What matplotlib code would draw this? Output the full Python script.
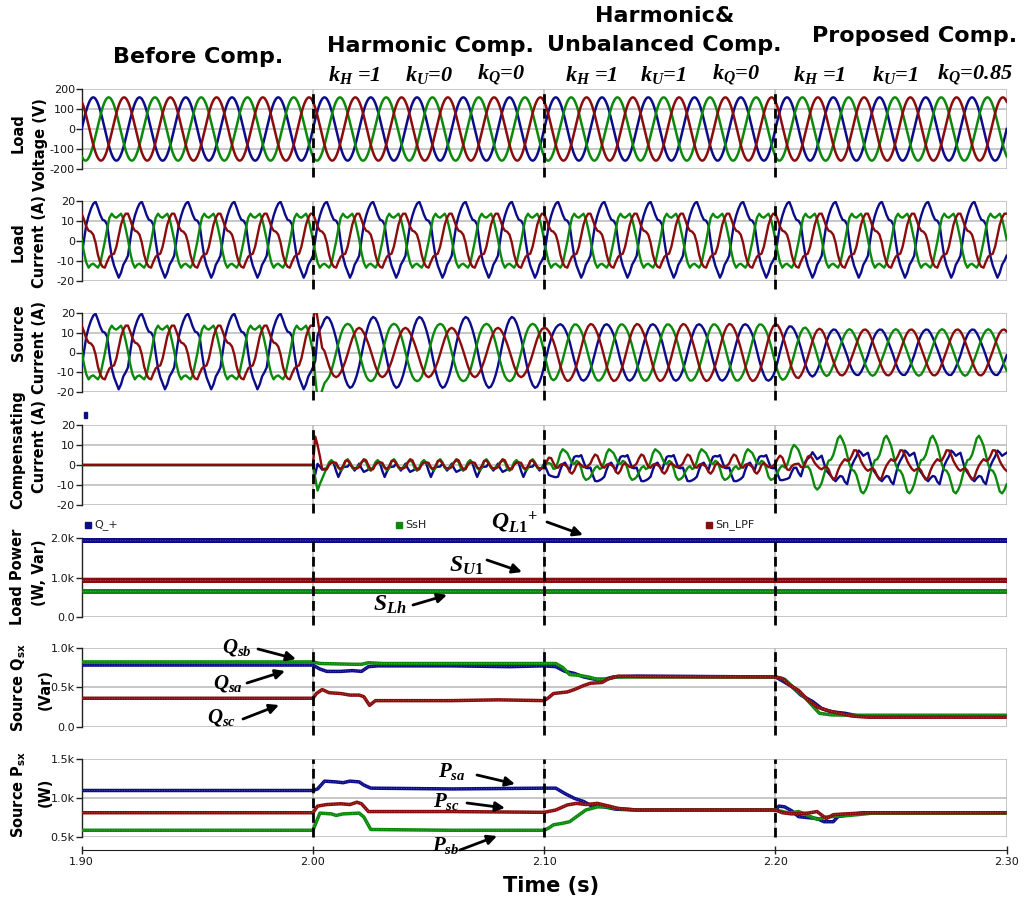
import numpy as np
import matplotlib
matplotlib.use("Agg")
import matplotlib.pyplot as plt
from matplotlib.patches import Rectangle, FancyArrowPatch

plt.rcParams["font.family"] = ["DejaVu Sans"]
plt.rcParams["mathtext.fontset"] = "custom"
plt.rcParams["mathtext.it"] = "Liberation Serif:bold:italic"
plt.rcParams["mathtext.rm"] = "Liberation Serif:bold"
plt.rcParams["mathtext.bf"] = "Liberation Serif:bold"
plt.rcParams["mathtext.sf"] = "DejaVu Sans:bold"

# ------------------------------------------------------------------ data
TIME_START, TIME_STOP, TIME_STEP = 1.90, 2.30, 0.001
F_LINE = 50.0

# compensation modes and their gains
MODE_STARTS = [1.90, 2.00, 2.10, 2.20]
MODE_SETTLE = [0.001, 0.001, 0.006, 0.025]
K_H = [0, 1, 1, 1]
K_U = [0, 0, 1, 1]
K_Q = [0, 0, 0, 0.85]
FILTER_RESIDUAL = 0.10

# load voltage: peak value and time of peak within the 20 ms cycle (a, b, c)
V_PEAK = 158.0
V_PEAK_TIME = [0.0050, 0.01167, 0.01833]

# one 20 ms cycle of the non-linear load currents, 1 ms per sample (A)
LOAD_IA = [-7.5, 0.5, 8.0, 12.5, 16.0, 18.5, 19.5, 16.5, 13.0, 10.5,
           10.0, 8.0, -0.5, -8.0, -12.5, -15.5, -18.5, -16.0, -12.0, -10.0]
LOAD_IB = [0.5, -6.0, -11.0, -13.5, -12.0, -11.5, -12.5, -13.5, -11.5, -6.0,
           -0.5, 6.0, 11.5, 13.5, 12.0, 11.5, 12.5, 13.5, 11.0, 6.0]
LOAD_IC = [13.5, 10.5, 7.0, 5.0, 4.5, 3.0, -1.0, -7.0, -11.0, -13.0,
           -13.5, -10.5, -8.0, -7.0, -6.5, -3.0, 2.5, 8.0, 11.5, 13.5]

# start-up kick of the compensator at 2.00 s (A)
KICK_T = [2.001, 2.002, 2.003, 2.004, 2.005]
KICK_A = [-3.0, 4.0, 2.0, 0.0, 0.0]
KICK_B = [-8.0, -15.0, -11.0, -5.0, -1.0]
KICK_C = [13.0, 7.0, 2.0, -2.0, 0.0]

# load power components (kW, kVar)
LOAD_POWER_LABELS = ["Q_+", "SsH", "Sn_LPF"]
LOAD_POWER_VALUES = [1.96, 0.67, 0.93]

# per-phase source reactive power (s, kVar)
Q_SA = [(1.900, 0.78), (2.000, 0.78), (2.003, 0.73), (2.006, 0.70), (2.012, 0.70),
        (2.017, 0.71), (2.021, 0.70), (2.024, 0.76), (2.028, 0.77), (2.060, 0.77),
        (2.085, 0.76), (2.100, 0.77), (2.105, 0.76), (2.109, 0.70), (2.113, 0.675),
        (2.117, 0.63), (2.122, 0.60), (2.126, 0.60), (2.130, 0.63), (2.140, 0.64),
        (2.200, 0.63), (2.203, 0.58), (2.207, 0.51), (2.211, 0.40), (2.216, 0.32),
        (2.220, 0.23), (2.224, 0.19), (2.230, 0.17), (2.236, 0.135), (2.300, 0.13)]
Q_SB = [(1.900, 0.82), (2.000, 0.82), (2.003, 0.80), (2.018, 0.79), (2.021, 0.79),
        (2.024, 0.81), (2.030, 0.80), (2.100, 0.80), (2.105, 0.80), (2.108, 0.75),
        (2.111, 0.66), (2.115, 0.65), (2.119, 0.63), (2.123, 0.60), (2.127, 0.60),
        (2.131, 0.63), (2.140, 0.63), (2.200, 0.63), (2.204, 0.60), (2.208, 0.49),
        (2.213, 0.36), (2.219, 0.17), (2.224, 0.15), (2.232, 0.145), (2.300, 0.145)]
Q_SC = [(1.900, 0.36), (2.000, 0.36), (2.0015, 0.42), (2.004, 0.47), (2.007, 0.43),
        (2.012, 0.42), (2.016, 0.40), (2.020, 0.40), (2.022, 0.38), (2.0245, 0.27),
        (2.027, 0.33), (2.060, 0.33), (2.080, 0.34), (2.100, 0.33), (2.102, 0.37),
        (2.104, 0.42), (2.110, 0.44), (2.113, 0.47), (2.117, 0.52), (2.120, 0.55),
        (2.125, 0.56), (2.128, 0.61), (2.132, 0.64), (2.140, 0.635), (2.200, 0.63),
        (2.203, 0.61), (2.206, 0.53), (2.210, 0.46), (2.214, 0.34), (2.218, 0.25),
        (2.222, 0.21), (2.226, 0.18), (2.233, 0.135), (2.240, 0.12), (2.300, 0.12)]

# per-phase source active power (s, kW)
P_SA = [(1.900, 1.10), (2.000, 1.10), (2.002, 1.12), (2.005, 1.22), (2.010, 1.21),
        (2.013, 1.20), (2.016, 1.22), (2.020, 1.21), (2.022, 1.17), (2.025, 1.13),
        (2.060, 1.12), (2.100, 1.13), (2.105, 1.13), (2.109, 1.06), (2.113, 1.00),
        (2.117, 0.96), (2.120, 0.91), (2.126, 0.89), (2.131, 0.86), (2.140, 0.85),
        (2.200, 0.85), (2.2015, 0.90), (2.204, 0.89), (2.207, 0.84), (2.210, 0.765),
        (2.218, 0.74), (2.221, 0.70), (2.225, 0.70), (2.227, 0.765), (2.232, 0.79),
        (2.238, 0.815), (2.300, 0.815)]
P_SB = [(1.900, 0.59), (2.000, 0.59), (2.003, 0.81), (2.008, 0.80), (2.010, 0.78),
        (2.013, 0.80), (2.020, 0.81), (2.022, 0.76), (2.025, 0.60), (2.060, 0.59),
        (2.100, 0.59), (2.102, 0.62), (2.104, 0.66), (2.108, 0.68), (2.111, 0.70),
        (2.114, 0.765), (2.118, 0.85), (2.123, 0.89), (2.127, 0.89), (2.131, 0.87),
        (2.140, 0.85), (2.200, 0.85), (2.206, 0.81), (2.210, 0.83), (2.214, 0.78),
        (2.218, 0.73), (2.222, 0.76), (2.226, 0.77), (2.232, 0.78), (2.242, 0.81),
        (2.300, 0.81)]
P_SC = [(1.900, 0.815), (2.000, 0.815), (2.002, 0.90), (2.006, 0.92), (2.012, 0.93),
        (2.016, 0.92), (2.019, 0.95), (2.021, 0.93), (2.024, 0.83), (2.060, 0.83),
        (2.100, 0.82), (2.105, 0.85), (2.110, 0.915), (2.114, 0.935), (2.118, 0.92),
        (2.123, 0.935), (2.128, 0.90), (2.132, 0.87), (2.140, 0.85), (2.200, 0.85),
        (2.203, 0.815), (2.207, 0.80), (2.214, 0.81), (2.218, 0.83), (2.222, 0.74),
        (2.225, 0.79), (2.230, 0.80), (2.240, 0.815), (2.300, 0.815)]

# ------------------------------------------------------------------ signals
t = np.round(TIME_START + TIME_STEP * np.arange(int(round((TIME_STOP - TIME_START) / TIME_STEP)) + 1), 6)
n = np.arange(t.size)
omega = 2 * np.pi * F_LINE

tv = np.linspace(TIME_START, TIME_STOP, 1601)
v_load = [V_PEAK * np.cos(omega * (tv - tp)) for tp in V_PEAK_TIME]

templates = np.array([LOAD_IA, LOAD_IB, LOAD_IC])
per = templates.shape[1]
i_load = templates[:, n % per]

# fundamental phasors of the load currents and their decomposition
spec = np.fft.fft(templates, axis=1)
ph1 = 2 * spec[:, 1] / per
rot = np.exp(1j * 2 * np.pi * n / per)
fund = np.real(ph1[:, None] * rot[None, :])
harm = i_load - fund

a_op = np.exp(2j * np.pi / 3)
i_pos = (ph1[0] + a_op * ph1[1] + a_op ** 2 * ph1[2]) / 3
pos_ph = np.array([i_pos, i_pos * a_op ** 2, i_pos * a_op])
v_ph = np.exp(-1j * omega * np.array(V_PEAK_TIME))
act_ph = np.real(pos_ph * np.conj(v_ph)) * v_ph
react_ph = pos_ph - act_ph
pos = np.real(pos_ph[:, None] * rot[None, :])
react = np.real(react_ph[:, None] * rot[None, :])
neg_zero = fund - pos


def gain(k):
    g = np.zeros_like(t)
    for m in range(1, len(MODE_STARTS)):
        g += (k[m] - k[m - 1]) * np.clip((t - MODE_STARTS[m]) / MODE_SETTLE[m], 0, 1)
    return g


g_h, g_u, g_q = gain(K_H), gain(K_U), gain(K_Q)
i_src = i_load - g_h * (1 - FILTER_RESIDUAL) * harm - g_u * neg_zero - g_q * react
i_comp = i_src - i_load
kick_idx = np.round((np.array(KICK_T) - TIME_START) / TIME_STEP).astype(int)
kicks = np.array([KICK_A, KICK_B, KICK_C])
i_comp[:, kick_idx] += kicks
i_src[:, kick_idx] += kicks

# ------------------------------------------------------------------ figure
BLUE, GREEN, RED = "#0c0c8a", "#0b890b", "#8a0c0c"
PHASE_COLORS = [BLUE, GREEN, RED]
GRID = "#b8b8b8"
W, H = 1027, 906
LEFT, RIGHT = 81.7, 1006.7
PANELS_PX = [(89, 169), (200.7, 280.7), (312.7, 392.3), (425, 505),
             (538, 617), (647.7, 726.7), (759.3, 837.3)]

fig = plt.figure(figsize=(W / 100, H / 100), dpi=100)
axes = [fig.add_axes([LEFT / W, 1 - b / H, (RIGHT - LEFT) / W, (b - tp) / H])
        for tp, b in PANELS_PX]
XTICKS = MODE_STARTS + [TIME_STOP]


def style(ax, ylim, yticks, ylabels, bottom=False):
    ax.set_xlim(TIME_START, TIME_STOP)
    ax.set_ylim(*ylim)
    ax.set_yticks(yticks)
    ax.set_yticklabels(ylabels)
    ax.set_xticks(XTICKS)
    ax.grid(True, color=GRID, lw=1.1)
    ax.set_axisbelow(True)
    ax.patch.set_alpha(0.0)
    for s in ("top", "right", "bottom"):
        ax.spines[s].set_visible(False)
    ax.spines["left"].set_color("#202020")
    ax.spines["left"].set_linewidth(1.0)
    ax.tick_params(axis="y", direction="out", length=4, width=1, labelsize=8,
                   pad=1, color="#202020", labelcolor="#151515")
    if bottom:
        ax.spines["bottom"].set_visible(True)
        ax.spines["bottom"].set_position(("outward", 9))
        ax.spines["bottom"].set_color("#202020")
        ax.set_xticklabels([f"{x:.2f}" for x in XTICKS])
        ax.tick_params(axis="x", direction="inout", length=6, width=1, labelsize=8,
                       pad=2, color="#202020", labelcolor="#151515")
    else:
        ax.tick_params(axis="x", length=0, labelbottom=False)


def thick(ax, x, y, color, lw):
    ax.plot(x, y, color=color, lw=lw, solid_capstyle="butt", zorder=3)
    ax.plot(x, y, color="white", alpha=0.35, lw=0.6, ls=(0, (1, 2)), zorder=3)


# waveforms
for k in range(3):
    axes[0].plot(tv, v_load[k], color=PHASE_COLORS[k], lw=1.8, zorder=3)
    axes[1].plot(t, i_load[k], color=PHASE_COLORS[k], lw=1.7, zorder=3)
    axes[2].plot(t, i_src[k], color=PHASE_COLORS[k], lw=1.7, zorder=3)
    axes[3].plot(t, i_comp[k], color=PHASE_COLORS[k], lw=1.7, zorder=3)

style(axes[0], (-200, 200), [-200, -100, 0, 100, 200], ["-200", "-100", "0", "100", "200"])
for ax in axes[1:4]:
    style(ax, (-20, 20), [-20, -10, 0, 10, 20], ["-20", "-10", "0", "10", "20"])

# load power
POWER_COLORS = [BLUE, GREEN, RED]
for val, col in zip(LOAD_POWER_VALUES, POWER_COLORS):
    thick(axes[4], [TIME_START, TIME_STOP], [val, val], col, 3.6)
style(axes[4], (0, 2.0), [0, 1.0, 2.0], ["0.0", "1.0k", "2.0k"])

# source Q and P
for series, col in zip([Q_SA, Q_SB, Q_SC], [BLUE, GREEN, RED]):
    xs, ys = zip(*series)
    thick(axes[5], xs, ys, col, 2.5)
style(axes[5], (0, 1.0), [0, 0.5, 1.0], ["0.0", "0.5k", "1.0k"])

for series, col in zip([P_SA, P_SB, P_SC], [BLUE, GREEN, RED]):
    xs, ys = zip(*series)
    thick(axes[6], xs, ys, col, 2.5)
style(axes[6], (0.5, 1.5), [0.5, 1.0, 1.5], ["0.5k", "1.0k", "1.5k"], bottom=True)

# mode boundaries
for i, ax in enumerate(axes):
    lo = 0.0 if i == 6 else -0.1
    for x in MODE_STARTS[1:]:
        ax.axvline(x, ymin=lo, ymax=1.0, color="black", lw=2.0,
                   ls=(0, (3.5, 1.8)), clip_on=False, zorder=6)


def fx(x):
    return x / W


def fy(y):
    return 1 - y / H


# y-axis titles (two lines each)
YTITLES = [
    ("Load", 18, 133, "Voltage (V)", 40, 145),
    ("Load", 18, 242, "Current (A)", 40, 241),
    ("Source", 18, 333, "Current (A)", 40, 347),
    ("Compensating", 18, 450, "Current (A)", 40, 446),
    ("Load Power", 18, 577, "(W, Var)", 40, 573),
    (r"Source Q$_{\mathsf{sx}}$", 19, 688, "(Var)", 45, 690),
    (r"Source P$_{\mathsf{sx}}$", 19, 794, "(W)", 45, 792),
]
for l1, x1, y1, l2, x2, y2 in YTITLES:
    fig.text(fx(x1), fy(y1), l1, rotation=90, ha="center", va="center",
             fontsize=10.5, fontweight="bold")
    fig.text(fx(x2), fy(y2), l2, rotation=90, ha="center", va="center",
             fontsize=10.5, fontweight="bold")

fig.text(fx(551), fy(886), "Time (s)", ha="center", va="center",
         fontsize=15, fontweight="bold")

# mode titles
TITLES = [("Before Comp.", 198, 57), ("Harmonic Comp.", 430, 46),
          ("Harmonic&", 665, 16), ("Unbalanced Comp.", 664, 45),
          ("Proposed Comp.", 915, 36)]
for txt, x, y in TITLES:
    fig.text(fx(x), fy(y), txt, ha="center", va="center", fontsize=16,
             fontweight="bold")

# gain settings of each compensating mode
serif_bi = dict(family="Liberation Serif", fontweight="bold", style="italic",
                fontsize=16, ha="left", va="center")
K_LABEL_X = [(328, 405, 477), (565, 640, 712), (793, 872, 937)]
for m, (xh, xu, xq) in enumerate(K_LABEL_X, start=1):
    fig.text(fx(xh), fy(75), rf"$k_H$ ={K_H[m]:g}", **serif_bi)
    fig.text(fx(xu), fy(75), rf"$k_U$={K_U[m]:g}", **serif_bi)
    fig.text(fx(xq), fy(75), rf"$k_Q$={K_Q[m]:g}", **serif_bi)

# legend of the load power panel
LEG_X = [85, 396, 706]
for lbl, col, x in zip(LOAD_POWER_LABELS, POWER_COLORS, LEG_X):
    fig.add_artist(Rectangle((fx(x), fy(528)), 6 / W, 6 / H, color=col,
                             transform=fig.transFigure))
    fig.text(fx(x + 9), fy(525), lbl, ha="left", va="center", fontsize=8,
             color="#202020")
fig.add_artist(Rectangle((fx(84), fy(418)), 3 / W, 6 / H, color=BLUE,
                         transform=fig.transFigure))

# curve annotations: (text, text x, text y, size, tail, head)
ANNOT = [
    (r"$Q_{L1}$$^{+}$", 514, 522, 17, (547, 522), (583, 535)),
    (r"$S_{U1}$", 466, 565, 17, (487, 560), (522, 572)),
    (r"$S_{Lh}$", 390, 604, 17, (413, 605), (447, 595)),
    (r"$Q_{sb}$", 237, 648, 15, (258, 649), (296, 659)),
    (r"$Q_{sa}$", 228, 684, 15, (247, 683), (285, 671)),
    (r"$Q_{sc}$", 222, 718, 15, (243, 719), (279, 705)),
    (r"$P_{sa}$", 452, 771, 15, (477, 775), (515, 784)),
    (r"$P_{sc}$", 446, 801, 15, (467, 803), (505, 808)),
    (r"$P_{sb}$", 446, 846, 15, (460, 850), (497, 836)),
]
for txt, x, y, fs, tail, head in ANNOT:
    fig.text(fx(x), fy(y), txt, ha="center", va="center", fontsize=fs, zorder=10)
    fig.add_artist(FancyArrowPatch((fx(tail[0]), fy(tail[1])),
                                   (fx(head[0]), fy(head[1])),
                                   transform=fig.transFigure,
                                   arrowstyle="-|>", mutation_scale=14,
                                   lw=2.0, color="black", shrinkA=0, shrinkB=0,
                                   zorder=10))

fig.savefig("out.png", dpi=100, facecolor="white")
